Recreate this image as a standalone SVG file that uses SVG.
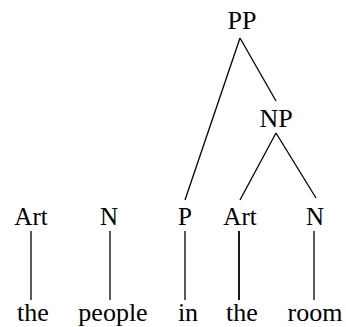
<svg xmlns="http://www.w3.org/2000/svg" width="346" height="327" viewBox="0 0 346 327">
<style>
text{font-family:"Liberation Serif","Times New Roman",serif;fill:#000;text-anchor:middle}
.ph{font-size:26px}
.lf{font-size:25px}
.wd{font-size:26px}
.edges line{stroke:#000;stroke-width:1.3;fill:none}
</style>
<rect width="346" height="327" fill="#fff"/>
<g class="edges" id="connectors">
<line x1="240" y1="38" x2="185" y2="200"/>
<line x1="240" y1="38" x2="276" y2="101"/>
<line x1="276" y1="133" x2="240" y2="200"/>
<line x1="276" y1="133" x2="316" y2="198"/>
<line x1="31" y1="231" x2="31" y2="300"/>
<line x1="110" y1="231" x2="110" y2="300"/>
<line x1="185" y1="231" x2="185" y2="300"/>
<line x1="239" y1="231" x2="239" y2="300" style="stroke-width:1.8"/>
<line x1="314" y1="231" x2="314" y2="300"/>
</g>
<g id="PP"><text class="ph" x="242" y="29">PP</text></g>
<g id="NP"><text class="ph" x="276" y="127">NP</text></g>
<g id="Art1"><text class="lf" x="31" y="225">Art</text></g>
<g id="N1"><text class="lf" x="109" y="225">N</text></g>
<g id="P"><text class="lf" x="185" y="225">P</text></g>
<g id="Art2"><text class="lf" x="240" y="225">Art</text></g>
<g id="N2"><text class="lf" x="315" y="225">N</text></g>
<g id="w-the1"><text class="wd" x="33" y="321">the</text></g>
<g id="w-people"><text class="wd" x="113" y="321">people</text></g>
<g id="w-in"><text class="wd" x="188" y="321">in</text></g>
<g id="w-the2"><text class="wd" x="242" y="321">the</text></g>
<g id="w-room"><text class="wd" x="315" y="321">room</text></g>
</svg>
